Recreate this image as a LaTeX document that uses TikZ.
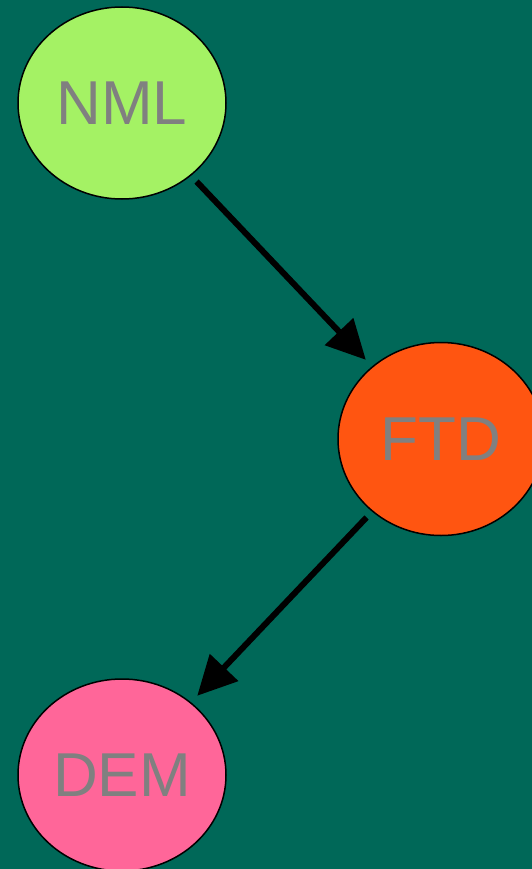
\documentclass[tikz,border=0pt]{standalone}
\usepackage{fontspec}
\setmainfont{Liberation Sans}
\usetikzlibrary{shapes.geometric,arrows.meta}
\definecolor{bg}{HTML}{006858}
\definecolor{nmlgreen}{HTML}{A4F264}
\definecolor{ftdorange}{HTML}{FF5511}
\definecolor{dempink}{HTML}{FF6699}
\tikzset{
  state/.style={ellipse, draw=black, line width=1.5pt, inner sep=0pt,
    minimum width=208pt, minimum height=192pt, text=gray,
    font=\fontsize{62}{62}\selectfont},
  link/.style={line width=6pt, -{Triangle[length=39pt,width=38pt]},
    shorten <=8pt, shorten >=9pt}
}
\begin{document}
\begin{tikzpicture}[x=1pt,y=-1pt]
\clip (0,0) rectangle (532,869);
\fill[bg] (0,0) rectangle (532,869);
\node[state, fill=nmlgreen] (nml) at (122,103) {NML};
\node[state, fill=ftdorange, minimum width=206pt, minimum height=193pt] (ftd) at (441,439) {FTD};
\node[state, fill=dempink] (dem) at (122,775) {DEM};
\draw[link] (nml) -- (ftd);
\draw[link] (ftd) -- (dem);
\end{tikzpicture}
\end{document}
